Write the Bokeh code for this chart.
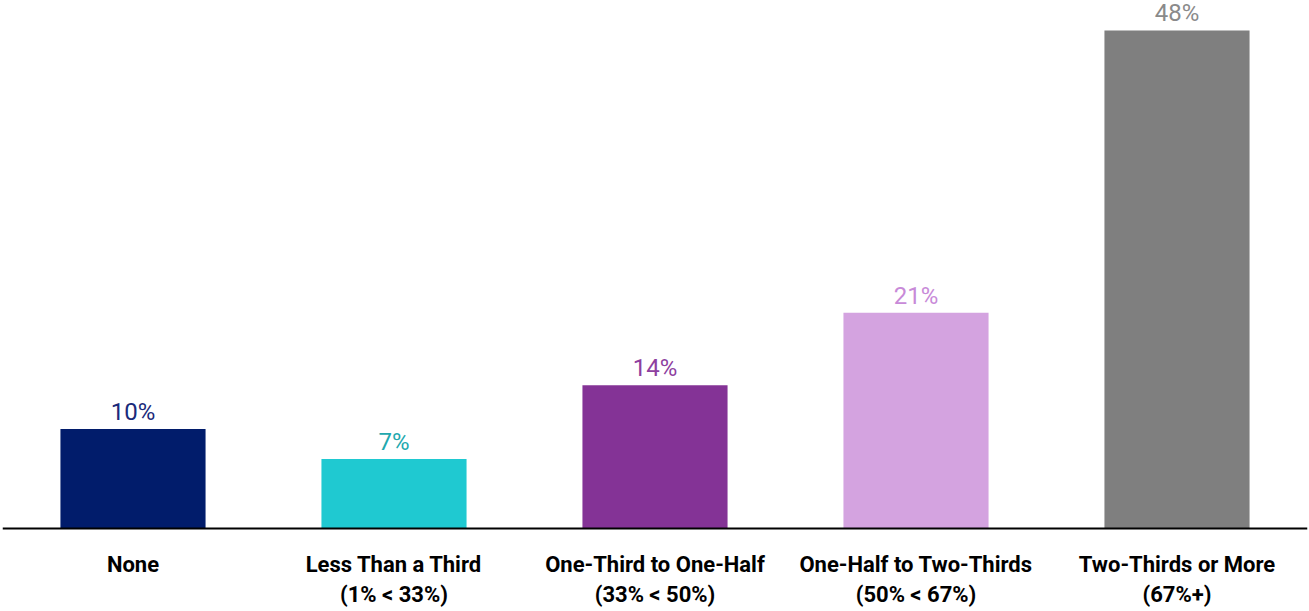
from bokeh.plotting import figure
from bokeh.models import ColumnDataSource, Span, Range1d
from bokeh.core.properties import value
from bokeh.embed import file_html
from bokeh.resources import INLINE

categories = ["None", "Less Than a Third\n(1% < 33%)", "One-Third to One-Half\n(33% < 50%)",
              "One-Half to Two-Thirds\n(50% < 67%)", "Two-Thirds or More\n(67%+)"]
values = [9.6, 6.7, 13.8, 20.8, 48.0]
bar_colors = ["#011C6B", "#1FC9D1", "#843396", "#D4A3E0", "#7F7F7F"]
label_colors = ["#1A2A7A", "#22A8AE", "#8E3FA0", "#C88AD8", "#8A8A8A"]
labels = [f"{round(v)}%" for v in values]

src = ColumnDataSource(dict(cat=categories, val=values, bc=bar_colors, lc=label_colors,
                            lab=labels, zero=[0] * len(values)))

FONT = "Roboto"

p = figure(x_range=categories, y_range=Range1d(-8.0, 50.89), width=1309, height=611,
           output_backend="svg", toolbar_location=None, min_border=0,
           min_border_left=2, min_border_right=2)
p.vbar(x="cat", top="val", width=0.556, fill_color="bc", line_color=None, source=src)
p.text(x="cat", y="val", text="lab", text_color="lc", text_font=value(FONT),
       text_font_size="24px", text_align="center", text_baseline="alphabetic",
       y_offset=-17, source=src)
p.text(x="cat", y="zero", text="cat", text_color="black", text_font=value(FONT),
       text_font_size="22px", text_font_style="bold", text_align="center",
       text_baseline="top", y_offset=24, text_line_height=1.2, source=src)
p.add_layout(Span(location=0, dimension="width", line_color="black", line_width=2))

p.xaxis.visible = False
p.yaxis.visible = False
p.xgrid.visible = False
p.ygrid.visible = False
p.outline_line_color = None

open("out.html", "w").write(file_html(p, INLINE))
